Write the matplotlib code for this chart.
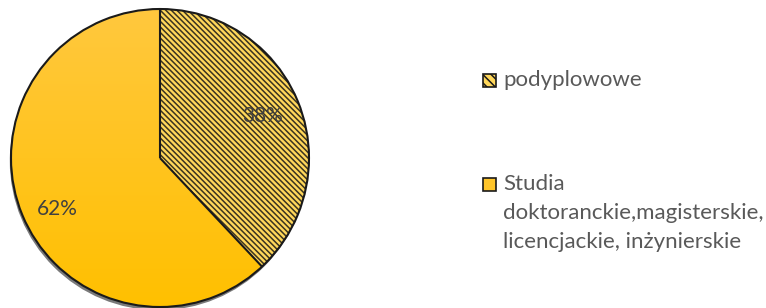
import matplotlib
matplotlib.use("Agg")
import matplotlib.pyplot as plt
import numpy as np
from matplotlib.patches import Rectangle, Circle, Wedge
from matplotlib.colors import LinearSegmentedColormap

labels = ["podyplowowe", "Studia\ndoktoranckie,magisterskie,\nlicencjackie, inżynierskie"]
values = [38, 62]
pct_labels = ["38%", "62%"]

plt.rcParams['hatch.linewidth'] = 1.1
plt.rcParams['hatch.color'] = '#3a3320'
W, H = 766, 308
fig = plt.figure(figsize=(W/100, H/100), dpi=100)

cx, cy, r = 160, 158, 149
ax = fig.add_axes([(cx - r)/W, (H - cy - r)/H, 2*r/W, 2*r/H])
ax.axis('off')

# shadow
sh = Circle((-0.008, -0.022), 1.0, facecolor='#7a7a7a', edgecolor='none', zorder=0)
ax.add_patch(sh)

wedges, _ = ax.pie(values, startangle=90, counterclock=False, radius=1.0,
                   colors=['#FFD75A', '#FFC52A'],
                   wedgeprops=dict(linewidth=0))
for w in wedges:
    w.set_zorder(2)

ax.set_xlim(-1.0, 1.0)
ax.set_ylim(-1.0, 1.0)
ax.set_aspect('equal')

# hatched slice drawn separately so the hatch keeps its own colour
hw = Wedge((0, 0), 1.0, wedges[0].theta1, wedges[0].theta2, facecolor='none',
           edgecolor='#3a3320', linewidth=0, hatch='\\' * 6, zorder=2.2)
ax.add_patch(hw)

# gradient fill for the solid slice
grad = np.linspace(0, 1, 256).reshape(-1, 1)
cmap = LinearSegmentedColormap.from_list('g', ['#FFC000', '#FFC83E'])
im = ax.imshow(grad, extent=[-1, 1, -1, 1], origin='lower', cmap=cmap, zorder=2.5, aspect='auto')
im.set_clip_path(wedges[1])
ax.set_xlim(-1.0, 1.0)
ax.set_ylim(-1.0, 1.0)
e = Wedge((0, 0), 1.0, 0, 360, facecolor='none',
          edgecolor='#1a1a1a', linewidth=1.5, zorder=3)
ax.add_patch(e)
for p in (sh, *wedges, e, hw):
    p.set_clip_on(False)
ax.plot([0, 0], [0, 1], color='#1a1a1a', lw=1.5, zorder=3, solid_capstyle='butt')
a = np.deg2rad(wedges[0].theta1)
ax.plot([0, np.cos(a)], [0, np.sin(a)], color='#1a1a1a', lw=1.5, zorder=3, solid_capstyle='butt')

def to_fig(px, py):
    return px / W, 1 - py / H

font = 'Lato'
fig.text(*to_fig(263, 116), pct_labels[0], ha='center', va='center', fontsize=15,
         color='#404040', family=font, zorder=5)
fig.text(*to_fig(57, 209), pct_labels[1], ha='center', va='center', fontsize=15,
         color='#404040', family=font, zorder=5)

# legend
for (my, face, hatch, lab) in [(80, '#FFD75A', '\\' * 4, labels[0]),
                               (184, '#FFC52A', None, labels[1])]:
    x0, y0 = to_fig(483, my + 6.5)
    rect = Rectangle((x0, y0), 13/W, 13/H, transform=fig.transFigure,
                     facecolor=face, edgecolor='#1a1a1a', linewidth=1.2, hatch=hatch)
    fig.add_artist(rect)
    if '\n' in lab:
        fig.text(*to_fig(503, my - 10), lab, ha='left', va='top',
                 fontsize=16, color='#595959', family=font, linespacing=1.55)
    else:
        fig.text(*to_fig(503, my), lab, ha='left', va='center',
                 fontsize=16, color='#595959', family=font)

fig.savefig('out.png', dpi=100)
